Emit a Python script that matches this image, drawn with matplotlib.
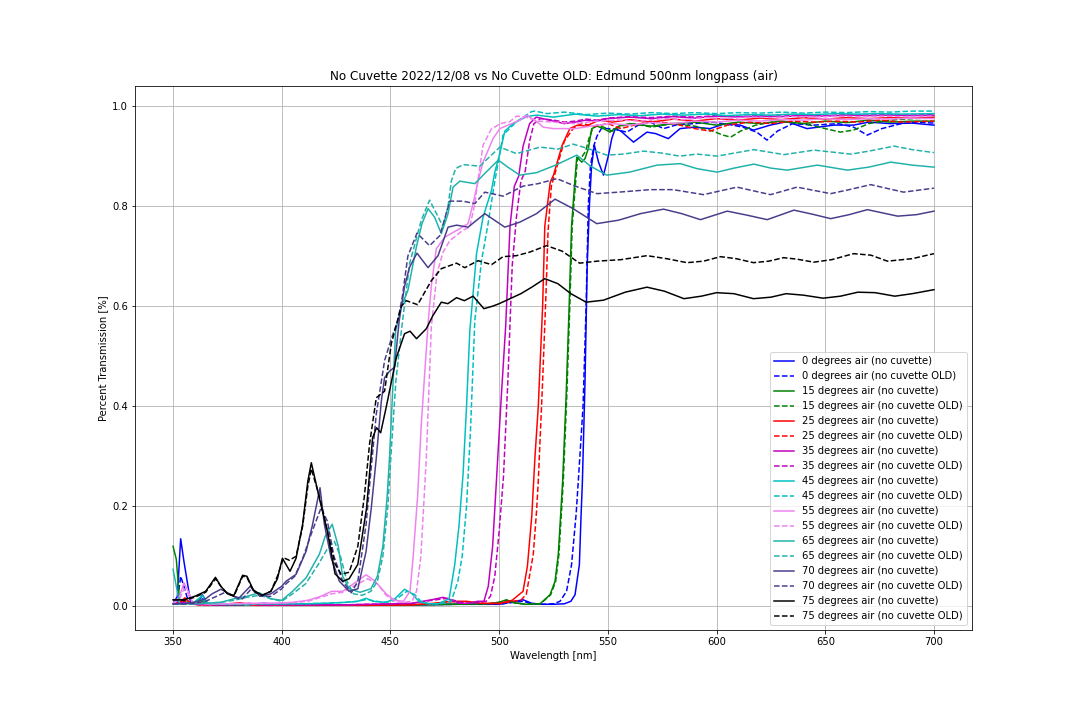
import numpy as np
import matplotlib
matplotlib.use("Agg")
import matplotlib.pyplot as plt

# Transmission curves (wavelength [nm], transmission fraction)
# 0 degrees
wl_0 = [350, 352, 353.5, 355, 356.5, 358, 361, 363.5, 366, 370, 380, 392, 400, 420, 440, 460, 480, 500, 505, 511,
        515, 520, 525, 530, 533, 534.9, 536.9, 537.7, 538.3, 539.5, 540.5, 541.5, 542.5, 543.8, 545.7, 548, 550.3,
        551.8, 553.4, 556, 561.8, 568, 572, 577.8, 583.2, 590, 597, 604, 610.9, 617, 624.7, 632.4, 641.6, 653.9,
        663, 670, 680, 690, 700]
t_0 = [0.005, 0.02, 0.135, 0.09, 0.05, 0.01, 0.005, 0.023, 0.005, 0.003, 0.003, 0.006, 0.003, 0.003, 0.003, 0.003,
       0.004, 0.004, 0.008, 0.013, 0.006, 0.004, 0.004, 0.005, 0.01, 0.023, 0.083, 0.184, 0.25, 0.45, 0.68, 0.8,
       0.88, 0.922, 0.888, 0.862, 0.902, 0.935, 0.955, 0.95, 0.928, 0.948, 0.945, 0.935, 0.955, 0.958, 0.955, 0.965,
       0.962, 0.952, 0.962, 0.969, 0.955, 0.962, 0.962, 0.968, 0.965, 0.966, 0.962]
wl_0_old = [350, 352, 353.5, 355, 357, 360, 363.5, 366, 370, 380, 400, 420, 440, 460, 480, 500, 505, 511, 515, 520,
            525, 528, 531, 533.3, 535.4, 536.4, 538.6, 540, 541, 542, 543.5, 545, 547, 551.8, 558.7, 564, 569.5,
            575.6, 582, 590, 598, 606, 612, 618.5, 623.2, 628, 635, 645, 656, 663, 669.3, 676, 685, 692, 700]
t_0_old = [0.005, 0.01, 0.06, 0.04, 0.01, 0.005, 0.015, 0.005, 0.003, 0.003, 0.003, 0.003, 0.003, 0.003, 0.004,
           0.004, 0.007, 0.01, 0.005, 0.004, 0.005, 0.01, 0.03, 0.083, 0.184, 0.25, 0.4, 0.6, 0.8, 0.88, 0.92, 0.94,
           0.955, 0.955, 0.948, 0.962, 0.968, 0.955, 0.963, 0.965, 0.968, 0.963, 0.958, 0.948, 0.932, 0.95, 0.965,
           0.962, 0.965, 0.958, 0.942, 0.955, 0.965, 0.968, 0.966]

# 15 degrees
wl_15 = [350, 351.5, 353, 356, 359, 362, 365, 370, 380, 390, 400, 420, 440, 460, 480, 495, 500, 503.3, 507, 512,
         518.8, 523.4, 525.7, 527.2, 528.3, 529.2, 530.8, 532.2, 533.3, 534.9, 535.7, 538, 539.5, 541, 542.6, 545,
         548, 551, 555, 560, 570, 580, 590, 600, 610, 620, 630, 640, 650, 660, 670, 680, 690, 700]
t_15 = [0.12, 0.094, 0.01, 0.008, 0.006, 0.015, 0.005, 0.003, 0.003, 0.004, 0.003, 0.003, 0.003, 0.003, 0.004,
        0.005, 0.008, 0.013, 0.007, 0.004, 0.005, 0.023, 0.05, 0.104, 0.184, 0.25, 0.42, 0.6, 0.76, 0.855, 0.898,
        0.888, 0.895, 0.915, 0.955, 0.96, 0.955, 0.948, 0.96, 0.965, 0.96, 0.965, 0.968, 0.962, 0.968, 0.965, 0.97,
        0.965, 0.97, 0.967, 0.972, 0.968, 0.97, 0.97]
wl_15_old = [350, 353, 356, 359, 362, 365, 370, 380, 390, 400, 420, 440, 460, 480, 495, 500, 503.5, 507, 512, 519,
             523.7, 526, 527.5, 528.6, 529.5, 531.1, 532.5, 533.6, 535.2, 536, 538.3, 539.8, 541.3, 543, 545, 548,
             552, 556, 562, 570, 580, 590, 597, 603, 606.5, 611, 618, 628, 640, 650, 657, 663, 670, 680, 690, 700]
t_15_old = [0.005, 0.006, 0.01, 0.006, 0.012, 0.005, 0.003, 0.003, 0.004, 0.003, 0.003, 0.003, 0.003, 0.004, 0.005,
            0.008, 0.012, 0.007, 0.004, 0.005, 0.023, 0.05, 0.104, 0.184, 0.25, 0.42, 0.6, 0.76, 0.85, 0.895, 0.9,
            0.91, 0.935, 0.955, 0.962, 0.958, 0.95, 0.96, 0.965, 0.958, 0.965, 0.96, 0.952, 0.942, 0.938, 0.95, 0.962,
            0.97, 0.965, 0.955, 0.948, 0.952, 0.965, 0.972, 0.975, 0.976]

# 25 degrees
wl_25 = [350, 353, 355.5, 358, 362, 370, 381, 388, 400, 420, 440, 460, 470, 478, 485, 492, 500, 506, 511, 513, 515,
         516.5, 518, 520, 521, 523.5, 525, 529, 532.5, 536, 540, 546, 552, 560, 570, 580, 590, 600, 610, 620, 630,
         640, 650, 660, 670, 680, 690, 700]
t_25 = [0.005, 0.008, 0.017, 0.005, 0.003, 0.003, 0.007, 0.002, 0.002, 0.002, 0.002, 0.003, 0.006, 0.01, 0.01,
        0.006, 0.006, 0.012, 0.03, 0.08, 0.18, 0.3, 0.4, 0.6, 0.76, 0.848, 0.862, 0.922, 0.955, 0.962, 0.96, 0.972,
        0.968, 0.973, 0.968, 0.974, 0.97, 0.975, 0.972, 0.976, 0.973, 0.977, 0.974, 0.977, 0.975, 0.977, 0.976, 0.978]
wl_25_old = [350, 353, 356, 359, 362, 370, 382, 390, 400, 420, 440, 460, 470, 478, 486, 493, 500, 506, 510, 512.5,
             515.7, 517.2, 518, 520, 521.5, 522.5, 524, 526, 530, 534, 538, 544, 550, 556, 562, 570, 580, 590, 597,
             605, 615, 625, 635, 645, 655, 665, 675, 685, 700]
t_25_old = [0.005, 0.006, 0.012, 0.005, 0.003, 0.003, 0.005, 0.002, 0.002, 0.002, 0.002, 0.003, 0.005, 0.009,
            0.009, 0.006, 0.005, 0.01, 0.012, 0.024, 0.104, 0.19, 0.25, 0.45, 0.62, 0.75, 0.84, 0.87, 0.93, 0.955,
            0.965, 0.96, 0.965, 0.955, 0.962, 0.97, 0.965, 0.955, 0.95, 0.962, 0.968, 0.965, 0.97, 0.968, 0.97, 0.968,
            0.972, 0.968, 0.97]

# 35 degrees
wl_35 = [350, 355, 360, 370, 380, 385, 390, 400, 410, 420, 430, 440, 450, 460, 465, 470, 474.2, 478, 482, 486, 490,
         493, 495, 497, 499, 501, 503, 505, 507, 509, 511, 514, 517, 520, 525, 530, 535, 540, 545, 550, 560, 570,
         580, 590, 600, 610, 620, 630, 640, 650, 660, 670, 680, 690, 700]
t_35 = [0.005, 0.008, 0.004, 0.003, 0.004, 0.006, 0.003, 0.003, 0.003, 0.003, 0.003, 0.004, 0.005, 0.006, 0.01,
        0.014, 0.018, 0.012, 0.006, 0.006, 0.01, 0.01, 0.04, 0.12, 0.27, 0.42, 0.56, 0.76, 0.84, 0.86, 0.92, 0.965,
        0.978, 0.975, 0.97, 0.965, 0.968, 0.972, 0.97, 0.975, 0.978, 0.975, 0.979, 0.976, 0.98, 0.978, 0.98, 0.979,
        0.981, 0.98, 0.982, 0.981, 0.982, 0.981, 0.982]
wl_35_old = [350, 355, 360, 370, 380, 385, 390, 400, 410, 420, 430, 440, 450, 460, 466, 471, 476, 480, 484, 488,
             492, 494, 496, 498, 500, 502, 504, 506, 508, 510, 512, 514, 516, 519, 525, 530, 535, 540, 545, 550, 560,
             570, 580, 590, 600, 610, 620, 630, 640, 650, 660, 670, 680, 690, 700]
t_35_old = [0.005, 0.006, 0.004, 0.003, 0.003, 0.005, 0.003, 0.003, 0.003, 0.003, 0.003, 0.004, 0.005, 0.006,
            0.01, 0.013, 0.016, 0.011, 0.006, 0.006, 0.009, 0.01, 0.02, 0.06, 0.15, 0.26, 0.45, 0.68, 0.78, 0.85,
            0.87, 0.93, 0.965, 0.975, 0.972, 0.968, 0.97, 0.974, 0.972, 0.976, 0.979, 0.977, 0.98, 0.978, 0.981,
            0.979, 0.981, 0.98, 0.982, 0.981, 0.983, 0.982, 0.983, 0.982, 0.983]

# 45 degrees
wl_45 = [350, 355, 360, 363.5, 366, 370, 380, 390, 400, 410, 420, 430, 435, 438.8, 442, 448, 452, 456.5, 460, 463,
         467, 472, 477, 479.6, 481.5, 483.4, 485, 486.5, 489.6, 492.6, 496.5, 498, 500.3, 502.6, 506.4, 512.6, 517.2,
         525, 535, 545, 555, 565, 575, 585, 595, 605, 615, 625, 635, 645, 655, 665, 675, 685, 700]
t_45 = [0.005, 0.005, 0.008, 0.022, 0.005, 0.004, 0.004, 0.005, 0.005, 0.005, 0.006, 0.008, 0.01, 0.016, 0.01,
        0.008, 0.015, 0.034, 0.025, 0.01, 0.005, 0.005, 0.015, 0.084, 0.16, 0.264, 0.4, 0.55, 0.705, 0.778, 0.832,
        0.868, 0.905, 0.95, 0.965, 0.979, 0.982, 0.978, 0.984, 0.98, 0.983, 0.981, 0.984, 0.982, 0.984, 0.981,
        0.983, 0.982, 0.984, 0.983, 0.985, 0.984, 0.985, 0.984, 0.985]
wl_45_old = [350, 355, 360, 363.5, 366, 370, 380, 390, 400, 410, 420, 430, 435, 439.5, 443, 448, 452, 457.5, 461,
             464, 468, 473, 478, 481, 483, 485, 486.8, 488.8, 491.9, 494.9, 498, 501.8, 508, 514.9, 516.5, 522, 530,
             540, 550, 560, 570, 580, 590, 600, 610, 620, 630, 640, 650, 660, 670, 680, 690, 700]
t_45_old = [0.005, 0.005, 0.006, 0.015, 0.005, 0.004, 0.004, 0.005, 0.005, 0.005, 0.006, 0.008, 0.01, 0.014, 0.01,
            0.008, 0.012, 0.03, 0.024, 0.01, 0.005, 0.005, 0.01, 0.05, 0.1, 0.2, 0.35, 0.571, 0.691, 0.765, 0.85,
            0.942, 0.969, 0.989, 0.99, 0.985, 0.988, 0.983, 0.986, 0.984, 0.987, 0.985, 0.987, 0.985, 0.987, 0.986,
            0.988, 0.986, 0.988, 0.987, 0.989, 0.988, 0.99, 0.99]

# 55 degrees
wl_55 = [350, 353, 355, 357, 359, 365, 375, 385, 395, 405, 412, 418, 423, 428, 433, 438.8, 443, 448, 452, 456, 459,
         460.4, 462.5, 464.2, 467.3, 468.8, 471.1, 475, 481.9, 485.7, 488, 490.3, 492.6, 497.2, 500.3, 504.1, 509.5,
         512.6, 517, 520.3, 525, 535, 545, 552, 560, 570, 580, 590, 600, 610, 620, 630, 640, 650, 660, 670, 680,
         690, 700]
t_55 = [0.005, 0.02, 0.047, 0.03, 0.008, 0.005, 0.005, 0.006, 0.006, 0.008, 0.012, 0.02, 0.03, 0.03, 0.045, 0.063,
        0.05, 0.025, 0.012, 0.01, 0.03, 0.097, 0.22, 0.365, 0.565, 0.64, 0.715, 0.738, 0.755, 0.765, 0.805, 0.85,
        0.888, 0.935, 0.955, 0.962, 0.972, 0.982, 0.97, 0.958, 0.955, 0.955, 0.962, 0.965, 0.962, 0.967, 0.965,
        0.97, 0.968, 0.972, 0.97, 0.973, 0.972, 0.975, 0.973, 0.975, 0.974, 0.976, 0.975]
wl_55_old = [350, 353, 355, 357, 359, 365, 375, 385, 395, 405, 412, 418, 423, 428, 433, 439.5, 444, 448, 452, 456,
             460, 462, 464, 466.5, 468.8, 471.4, 474.2, 477.3, 483.4, 486.5, 488.8, 490.5, 492.6, 496.5, 498.8,
             500.3, 504.9, 508, 512, 518, 525, 535, 545, 555, 565, 575, 585, 595, 605, 615, 625, 635, 645, 655, 665,
             675, 685, 700]
t_55_old = [0.005, 0.015, 0.035, 0.025, 0.006, 0.005, 0.005, 0.005, 0.006, 0.007, 0.01, 0.018, 0.025, 0.028, 0.04,
            0.055, 0.045, 0.022, 0.01, 0.008, 0.01, 0.03, 0.1, 0.297, 0.558, 0.665, 0.708, 0.731, 0.752, 0.758,
            0.805, 0.86, 0.922, 0.955, 0.96, 0.965, 0.969, 0.98, 0.978, 0.97, 0.968, 0.965, 0.97, 0.972, 0.97, 0.975,
            0.973, 0.977, 0.975, 0.978, 0.977, 0.979, 0.978, 0.98, 0.979, 0.98, 0.979, 0.98]

# 65 degrees
wl_65 = [350, 351.5, 353, 358, 365, 372, 378, 384, 389.7, 395, 400, 405, 411.2, 417.3, 420, 423.2, 426, 428, 431,
         436, 441, 444, 446.5, 448.5, 449.6, 451, 452.4, 455, 458, 461.9, 464.5, 467.3, 470.3, 473.4, 476.5, 478.8,
         481.9, 488.8, 494, 499.6, 504, 509.5, 517.2, 526, 535.7, 542, 549.5, 560, 572.6, 583.3, 591, 600.3, 608,
         617.2, 625, 632.5, 646.4, 660.2, 670, 680.2, 690, 700]
t_65 = [0.074, 0.04, 0.005, 0.005, 0.006, 0.008, 0.015, 0.02, 0.027, 0.015, 0.012, 0.03, 0.057, 0.104, 0.14, 0.164,
        0.12, 0.06, 0.035, 0.028, 0.035, 0.06, 0.12, 0.22, 0.3, 0.43, 0.55, 0.6, 0.631, 0.718, 0.765, 0.795, 0.778,
        0.745, 0.785, 0.838, 0.85, 0.845, 0.868, 0.892, 0.878, 0.862, 0.867, 0.882, 0.902, 0.88, 0.862, 0.868,
        0.882, 0.885, 0.875, 0.868, 0.876, 0.884, 0.876, 0.872, 0.882, 0.872, 0.878, 0.888, 0.882, 0.878]
wl_65_old = [350, 353, 358, 365, 372, 378, 384, 390, 395, 400, 405, 411, 417, 421, 424.2, 427, 430, 433, 437, 441,
             444, 446.5, 448.8, 450.5, 452.5, 455, 458.8, 464.2, 468, 472.7, 474.2, 476.5, 478, 480, 483.4, 491.1,
             500.3, 508, 518.8, 527, 534, 541, 549.5, 557, 566.4, 575, 583, 591, 600.3, 608, 617.2, 631, 644.8,
             661.8, 670, 681.7, 690, 700]
t_65_old = [0.005, 0.005, 0.005, 0.006, 0.008, 0.012, 0.018, 0.022, 0.015, 0.01, 0.025, 0.045, 0.085, 0.115, 0.13,
            0.1, 0.05, 0.025, 0.022, 0.03, 0.05, 0.1, 0.2, 0.32, 0.45, 0.55, 0.685, 0.772, 0.812, 0.772, 0.758, 0.8,
            0.85, 0.875, 0.883, 0.88, 0.918, 0.905, 0.918, 0.914, 0.924, 0.915, 0.902, 0.904, 0.91, 0.906, 0.9,
            0.904, 0.9, 0.906, 0.913, 0.903, 0.912, 0.904, 0.91, 0.92, 0.913, 0.907]

# 70 degrees
wl_70 = [350, 355, 360, 365, 368, 372, 376, 380, 385.5, 390, 395, 400, 402, 406.6, 411.2, 414, 417.6, 419.6, 422.7,
         426.5, 431, 435, 438.8, 441.2, 443.5, 445.8, 447.3, 449.6, 451.9, 454, 456.5, 458.8, 462.2, 467.3, 471.9,
         476.5, 480.4, 485.7, 493.4, 502.6, 509.5, 517.2, 525.7, 534, 544.9, 555, 565, 575.6, 584, 592.6, 604.9,
         614, 623.3, 635.6, 644, 652.5, 661, 669.4, 683.3, 692, 700]
t_70 = [0.005, 0.005, 0.008, 0.015, 0.025, 0.034, 0.025, 0.015, 0.04, 0.02, 0.025, 0.04, 0.05, 0.064, 0.11, 0.16,
        0.237, 0.164, 0.097, 0.05, 0.03, 0.035, 0.11, 0.197, 0.297, 0.41, 0.457, 0.47, 0.478, 0.57, 0.64, 0.678,
        0.706, 0.677, 0.701, 0.758, 0.762, 0.758, 0.785, 0.758, 0.768, 0.785, 0.814, 0.795, 0.765, 0.772, 0.785,
        0.794, 0.785, 0.773, 0.79, 0.782, 0.773, 0.792, 0.784, 0.775, 0.783, 0.793, 0.78, 0.783, 0.79]
wl_70_old = [350, 355, 360, 365, 370, 374, 378, 382, 386, 390, 395, 400, 402, 406, 410, 414, 418.1, 421, 424, 428,
             432, 435, 438.8, 441, 443.5, 447.3, 450.4, 453.4, 455.5, 458, 462.2, 468, 472.7, 477.3, 483.4, 488.8,
             493.4, 501.8, 511, 518, 526.5, 535, 545, 555, 569.5, 580, 594, 609.4, 624.8, 637, 652.5, 661, 670.9,
             686, 700]
t_70_old = [0.005, 0.005, 0.006, 0.01, 0.02, 0.028, 0.02, 0.015, 0.035, 0.02, 0.02, 0.035, 0.045, 0.06, 0.1, 0.15,
            0.197, 0.17, 0.1, 0.05, 0.027, 0.05, 0.164, 0.27, 0.385, 0.491, 0.535, 0.571, 0.62, 0.7, 0.746, 0.721,
            0.741, 0.81, 0.81, 0.805, 0.828, 0.82, 0.84, 0.845, 0.855, 0.84, 0.825, 0.828, 0.833, 0.833, 0.823,
            0.838, 0.823, 0.838, 0.825, 0.833, 0.843, 0.828, 0.836]

# 75 degrees
wl_75 = [350, 355, 360, 365, 369.5, 372, 375, 378, 382, 384, 387, 391, 395, 398, 400.3, 403.8, 406.6, 409.6, 412,
         413.6, 417.3, 421, 424.5, 428, 431, 435, 439, 441.8, 443.6, 445.5, 448, 452.7, 456.5, 459, 462, 466.5,
         469.5, 473.4, 476.4, 480.4, 484, 488, 493, 497, 500, 505, 510, 515, 521, 527, 533, 540, 548, 558, 568, 576,
         585, 593, 600, 608, 617, 625, 632, 640, 649, 657, 665, 673, 682, 690, 700]
t_75 = [0.013, 0.013, 0.02, 0.03, 0.058, 0.04, 0.025, 0.022, 0.062, 0.06, 0.032, 0.022, 0.03, 0.055, 0.096, 0.07,
        0.096, 0.164, 0.25, 0.287, 0.216, 0.15, 0.065, 0.05, 0.055, 0.084, 0.196, 0.337, 0.357, 0.347, 0.397, 0.497,
        0.545, 0.55, 0.535, 0.555, 0.581, 0.608, 0.605, 0.617, 0.611, 0.62, 0.595, 0.6, 0.605, 0.615, 0.625, 0.638,
        0.655, 0.645, 0.625, 0.608, 0.612, 0.628, 0.638, 0.63, 0.615, 0.62, 0.627, 0.625, 0.615, 0.618, 0.625,
        0.622, 0.616, 0.62, 0.628, 0.627, 0.62, 0.625, 0.633]
wl_75_old = [350, 355, 360, 365, 369.5, 372, 375, 378, 382, 384, 387, 391, 395, 398, 400.8, 403.5, 406.6, 409.6,
             412, 413.6, 417.3, 421, 424.5, 427.3, 431, 435, 438, 440.4, 443.5, 447.3, 450.4, 455, 457.3, 462.5,
             468.8, 473.4, 480.4, 484.2, 490.3, 496.5, 501.8, 508, 514, 521.8, 529, 537, 545, 556, 568, 577, 586.4,
             594, 601.8, 609, 617, 624, 630.8, 637, 644.7, 653, 663, 671, 678.6, 690, 700]
t_75_old = [0.013, 0.012, 0.018, 0.028, 0.055, 0.04, 0.025, 0.02, 0.06, 0.058, 0.03, 0.022, 0.03, 0.06, 0.097,
            0.092, 0.1, 0.16, 0.24, 0.275, 0.22, 0.15, 0.085, 0.064, 0.068, 0.12, 0.22, 0.325, 0.417, 0.43, 0.525,
            0.6, 0.611, 0.603, 0.651, 0.675, 0.686, 0.677, 0.691, 0.683, 0.699, 0.701, 0.708, 0.721, 0.71, 0.686,
            0.69, 0.693, 0.701, 0.695, 0.687, 0.69, 0.699, 0.695, 0.687, 0.69, 0.697, 0.694, 0.688, 0.693, 0.705,
            0.702, 0.69, 0.695, 0.705]

angles = [0, 15, 25, 35, 45, 55, 65, 70, 75]
colors = ['b', 'g', 'r', 'm', 'c', 'violet', 'lightseagreen', 'darkslateblue', 'k']
new_data = [(wl_0, t_0), (wl_15, t_15), (wl_25, t_25), (wl_35, t_35), (wl_45, t_45),
            (wl_55, t_55), (wl_65, t_65), (wl_70, t_70), (wl_75, t_75)]
old_data = [(wl_0_old, t_0_old), (wl_15_old, t_15_old), (wl_25_old, t_25_old), (wl_35_old, t_35_old),
            (wl_45_old, t_45_old), (wl_55_old, t_55_old), (wl_65_old, t_65_old), (wl_70_old, t_70_old),
            (wl_75_old, t_75_old)]

fig = plt.figure(figsize=(15, 10), dpi=72)
fig.subplots_adjust(left=0.125, right=0.9, top=0.88, bottom=0.125)

for angle, color, (wl, t), (wl_old, t_old) in zip(angles, colors, new_data, old_data):
    plt.plot(wl, t, color=color, linestyle='-', label=f'{angle} degrees air (no cuvette)')
    plt.plot(wl_old, t_old, color=color, linestyle='--', label=f'{angle} degrees air (no cuvette OLD)')

plt.title('No Cuvette 2022/12/08 vs No Cuvette OLD: Edmund 500nm longpass (air)')
plt.xlabel('Wavelength [nm]')
plt.ylabel('Percent Transmission [%]')
plt.grid(True)
plt.legend(loc='lower right')

plt.savefig('out.png', dpi=72)
plt.close()
